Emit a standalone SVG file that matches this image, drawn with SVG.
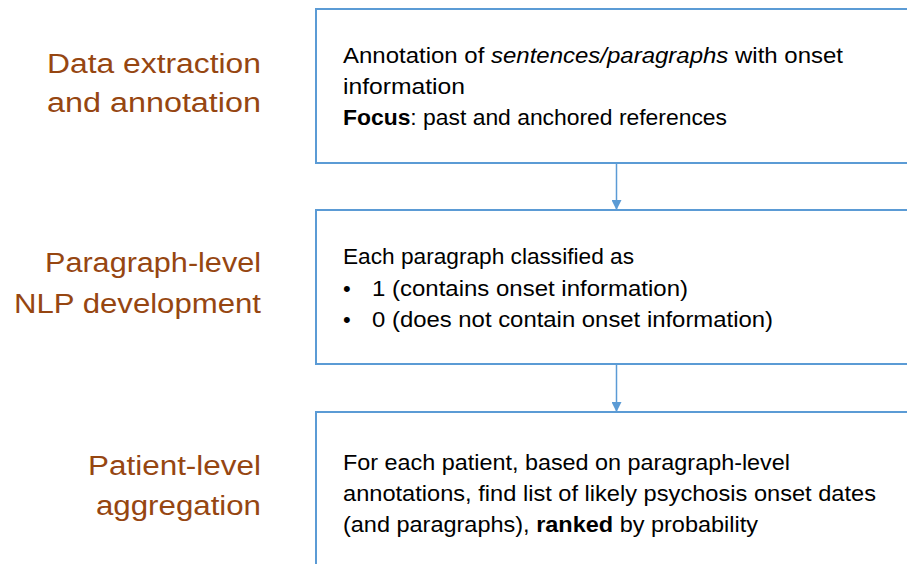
<svg xmlns="http://www.w3.org/2000/svg" width="907" height="564" viewBox="0 0 907 564">
<style>
.box{fill:#ffffff;stroke:#5B9BD5;stroke-width:2}
.lbl{font-family:"Liberation Sans",Arial,sans-serif;font-size:27px;fill:#964611;text-anchor:end}
.txt{font-family:"Liberation Sans",Arial,sans-serif;font-size:22px;fill:#000000}
.conn{stroke:#5B9BD5;stroke-width:1.5;fill:none}
</style>
<defs>
<marker id="ah" markerWidth="10" markerHeight="10" refX="9" refY="5" orient="auto" markerUnits="userSpaceOnUse">
<path d="M0,0 L10,5 L0,10 Z" fill="#5B9BD5"/>
</marker>
</defs>
<rect width="907" height="564" fill="#ffffff"/>
<g id="connectors">
<line class="conn" x1="616.5" y1="163" x2="616.5" y2="209" marker-end="url(#ah)"/>
<line class="conn" x1="616.5" y1="364" x2="616.5" y2="411" marker-end="url(#ah)"/>
</g>
<g id="label1">
<text class="lbl" x="261" y="73" textLength="214" lengthAdjust="spacingAndGlyphs">Data extraction</text>
<text class="lbl" x="261" y="112" textLength="214" lengthAdjust="spacingAndGlyphs">and annotation</text>
</g>
<g id="label2">
<text class="lbl" x="261" y="272" textLength="216" lengthAdjust="spacingAndGlyphs">Paragraph-level</text>
<text class="lbl" x="261" y="313" textLength="247" lengthAdjust="spacingAndGlyphs">NLP development</text>
</g>
<g id="label3">
<text class="lbl" x="261" y="475" textLength="173" lengthAdjust="spacingAndGlyphs">Patient-level</text>
<text class="lbl" x="261" y="515" textLength="165" lengthAdjust="spacingAndGlyphs">aggregation</text>
</g>
<g id="box1">
<rect class="box" x="316" y="9" width="600" height="154"/>
<text class="txt" x="343" y="63" textLength="500" lengthAdjust="spacingAndGlyphs">Annotation of <tspan font-style="italic">sentences/paragraphs</tspan> with onset</text>
<text class="txt" x="343" y="94" textLength="122" lengthAdjust="spacingAndGlyphs">information</text>
<text class="txt" x="343" y="125" textLength="384" lengthAdjust="spacingAndGlyphs"><tspan font-weight="bold">Focus</tspan>: past and anchored references</text>
</g>
<g id="box2">
<rect class="box" x="316" y="210" width="600" height="154"/>
<text class="txt" x="343" y="264" textLength="291" lengthAdjust="spacingAndGlyphs">Each paragraph classified as</text>
<text class="txt" x="343" y="296">•</text>
<text class="txt" x="372" y="296" textLength="316" lengthAdjust="spacingAndGlyphs">1 (contains onset information)</text>
<text class="txt" x="343" y="327">•</text>
<text class="txt" x="372" y="327" textLength="401" lengthAdjust="spacingAndGlyphs">0 (does not contain onset information)</text>
</g>
<g id="box3">
<rect class="box" x="316" y="412" width="600" height="170"/>
<text class="txt" x="343" y="470" textLength="447" lengthAdjust="spacingAndGlyphs">For each patient, based on paragraph-level</text>
<text class="txt" x="343" y="501" textLength="533" lengthAdjust="spacingAndGlyphs">annotations, find list of likely psychosis onset dates</text>
<text class="txt" x="343" y="532" textLength="415" lengthAdjust="spacingAndGlyphs">(and paragraphs), <tspan font-weight="bold">ranked</tspan> by probability</text>
</g>
</svg>
